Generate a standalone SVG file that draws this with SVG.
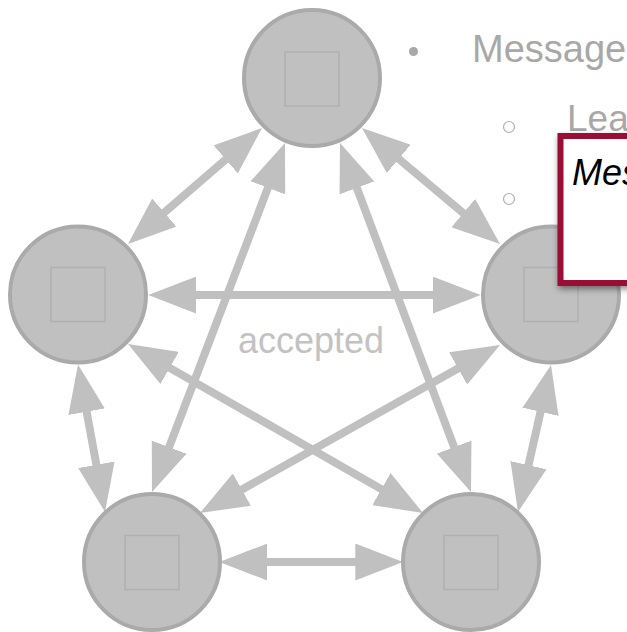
<svg xmlns="http://www.w3.org/2000/svg" width="627" height="632" viewBox="0 0 627 632">
  <style>
    .node circle { fill: #c0c0c0; stroke: #aaaaaa; stroke-width: 4; }
    .node rect { fill: none; stroke: #b0b0b0; stroke-width: 1.5; }
    .link { stroke: #c0c0c0; stroke-width: 8; fill: none; marker-start: url(#head); marker-end: url(#head); }
    .bullet-text { font-family: "Liberation Sans", Arial, Helvetica, sans-serif; fill: #a8a8a8; }
    .label { font-family: "Liberation Sans", Arial, Helvetica, sans-serif; font-size: 36px; fill: #c2c2c2; }
  </style>
  <defs>
    <!-- arrowhead: tip sits 40px past the end of the shortened line -->
    <marker id="head" viewBox="0 0 48 37" refX="8" refY="18.5" markerWidth="48" markerHeight="37" markerUnits="userSpaceOnUse" orient="auto-start-reverse">
      <path d="M0,0 L48,18.5 L0,37 z" fill="#c0c0c0"/>
    </marker>
    <filter id="shadow" x="-20%" y="-20%" width="140%" height="140%">
      <feDropShadow dx="1" dy="3" stdDeviation="3" flood-color="#000" flood-opacity="0.45"/>
    </filter>
  </defs>

  <!-- background outline text -->
  <g id="outline">
    <circle cx="413.5" cy="51.5" r="4.5" fill="#a8a8a8"/>
    <text class="bullet-text" x="472" y="62" font-size="38">Message</text>
    <circle cx="509" cy="127" r="5.5" fill="none" stroke="#b0b0b0" stroke-width="1.2"/>
    <text class="bullet-text" x="567" y="131" font-size="37">Lea</text>
    <circle cx="509" cy="199" r="5.5" fill="none" stroke="#b0b0b0" stroke-width="1.2"/>
  </g>

  <!-- connectors -->
  <g id="connectors">
    <line class="link" x1="259.3" y1="562" x2="363.3" y2="562"/>
    <line class="link" x1="188.3" y1="295" x2="440.7" y2="295"/>
    <line class="link" x1="231.75" y1="154.18" x2="158.25" y2="217.82"/>
    <line class="link" x1="270.76" y1="180.38" x2="166.24" y2="454.62"/>
    <line class="link" x1="354.06" y1="180.45" x2="456.94" y2="454.55"/>
    <line class="link" x1="392.62" y1="153.74" x2="469.38" y2="218.26"/>
    <line class="link" x1="162.71" y1="363.88" x2="388.29" y2="493.12"/>
    <line class="link" x1="465.1" y1="364.55" x2="234.9" y2="493.45"/>
    <line class="link" x1="85.2" y1="403.85" x2="97.8" y2="472.65"/>
    <line class="link" x1="542.24" y1="404.03" x2="526.76" y2="472.97"/>
  </g>

  <text class="label" x="311" y="353" text-anchor="middle">accepted</text>

  <!-- nodes -->
  <g id="node-top" class="node">
    <circle cx="312" cy="78" r="68"/>
    <rect x="285" y="52" width="54" height="54"/>
  </g>
  <g id="node-left" class="node">
    <circle cx="78" cy="294.5" r="68"/>
    <rect x="51" y="267.5" width="54" height="54"/>
  </g>
  <g id="node-right" class="node">
    <circle cx="551" cy="294.5" r="68"/>
    <rect x="524" y="267.5" width="54" height="54"/>
  </g>
  <g id="node-bottom-left" class="node">
    <circle cx="152" cy="562" r="68"/>
    <rect x="125" y="535.5" width="54" height="54"/>
  </g>
  <g id="node-bottom-right" class="node">
    <circle cx="471" cy="562" r="68"/>
    <rect x="444" y="535.5" width="54" height="54"/>
  </g>

  <!-- callout box -->
  <g id="callout">
    <rect x="560.5" y="136" width="120" height="147" fill="#ffffff" stroke="#9a0d36" stroke-width="6" filter="url(#shadow)"/>
    <text x="572" y="185" font-family="'Liberation Sans', Arial, Helvetica, sans-serif" font-size="36" font-style="italic" fill="#000000">Message</text>
  </g>
</svg>
